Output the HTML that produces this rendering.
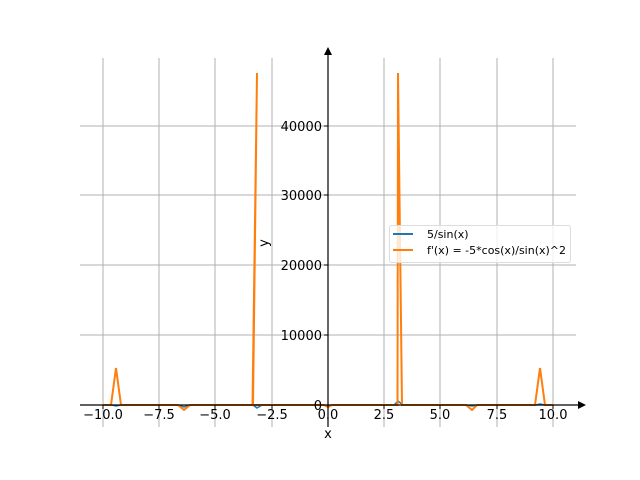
<!DOCTYPE html>
<html><head><style>body{margin:0;background:#fff}svg{display:block}text{font-family:"DejaVu Sans","Liberation Sans",sans-serif;font-size:13px;fill:#000}</style></head>
<body>
<svg width="640" height="480" viewBox="0 0 640 480">
<g stroke="#b0b0b0" stroke-width="1">
<line x1="103" y1="58" x2="103" y2="427"/><line x1="159" y1="58" x2="159" y2="427"/><line x1="215" y1="58" x2="215" y2="427"/><line x1="272" y1="58" x2="272" y2="427"/><line x1="384" y1="58" x2="384" y2="427"/><line x1="440" y1="58" x2="440" y2="427"/><line x1="497" y1="58" x2="497" y2="427"/><line x1="553" y1="58" x2="553" y2="427"/>
<line x1="80" y1="126" x2="576" y2="126"/><line x1="80" y1="195" x2="576" y2="195"/><line x1="80" y1="265" x2="576" y2="265"/><line x1="80" y1="335" x2="576" y2="335"/>
</g>
<polyline fill="none" stroke="#1f77b4" stroke-width="1.5" points="103,405 112,405 116,406 121,405 178,405 184,407 190,405 253,405 257,408 262,405 324,405 328,406 332,405 394,405 398,401 403,405 466,405 472,406 477,405 536,405 540,404 545,405 553,405"/>
<polyline fill="none" stroke="#ff7f0e" stroke-width="2" points="103,405 111,405 116,368 121,405 178,405 184,410 190,405 252.5,405 257,73 253,405 253,405 324,405 328,407 332,405 397.5,405 398,73 402,405 466,405 472,410 477,405 535,405 540,368 545,405 553,405"/>
<line x1="80" y1="405" x2="580" y2="405" stroke="#000" stroke-width="1.2"/>
<polygon points="586,405 578,401 578,409" fill="#000"/>
<line x1="328" y1="427" x2="328" y2="54" stroke="#000" stroke-width="1.2"/>
<polygon points="328,47 324,55 332,55" fill="#000"/>
<g stroke="#000"><line x1="103" y1="405" x2="103" y2="409"/><line x1="159" y1="405" x2="159" y2="409"/><line x1="215" y1="405" x2="215" y2="409"/><line x1="272" y1="405" x2="272" y2="409"/><line x1="328" y1="405" x2="328" y2="409"/><line x1="384" y1="405" x2="384" y2="409"/><line x1="440" y1="405" x2="440" y2="409"/><line x1="497" y1="405" x2="497" y2="409"/><line x1="553" y1="405" x2="553" y2="409"/>
<line x1="324" y1="126" x2="328" y2="126"/><line x1="324" y1="195" x2="328" y2="195"/><line x1="324" y1="265" x2="328" y2="265"/><line x1="324" y1="335" x2="328" y2="335"/><line x1="324" y1="405" x2="328" y2="405"/></g>
<g text-anchor="middle"><text x="103" y="419">−10.0</text><text x="159" y="419">−7.5</text><text x="215" y="419">−5.0</text><text x="272" y="419">−2.5</text><text x="328" y="419">0.0</text><text x="384" y="419">2.5</text><text x="440" y="419">5.0</text><text x="497" y="419">7.5</text><text x="553" y="419">10.0</text><text x="328" y="438">x</text></g>
<g text-anchor="end"><text x="322" y="131">40000</text><text x="322" y="200">30000</text><text x="322" y="270">20000</text><text x="322" y="340">10000</text><text x="322" y="410">0</text></g>
<text x="0" y="0" transform="translate(268,243) rotate(-90)" text-anchor="middle">y</text>
<rect x="389.5" y="225.5" width="181" height="37" rx="2" fill="#fff" fill-opacity="0.8" stroke="#ddd"/>
<line x1="393" y1="234" x2="413" y2="234" stroke="#1f77b4" stroke-width="2"/>
<line x1="393" y1="250" x2="413" y2="250" stroke="#ff7f0e" stroke-width="2"/>
<text x="427" y="238" style="font-size:11px">5/sin(x)</text>
<text x="427" y="254" style="font-size:11px" textLength="139">f'(x) = -5*cos(x)/sin(x)^2</text>
</svg>
</body></html>
